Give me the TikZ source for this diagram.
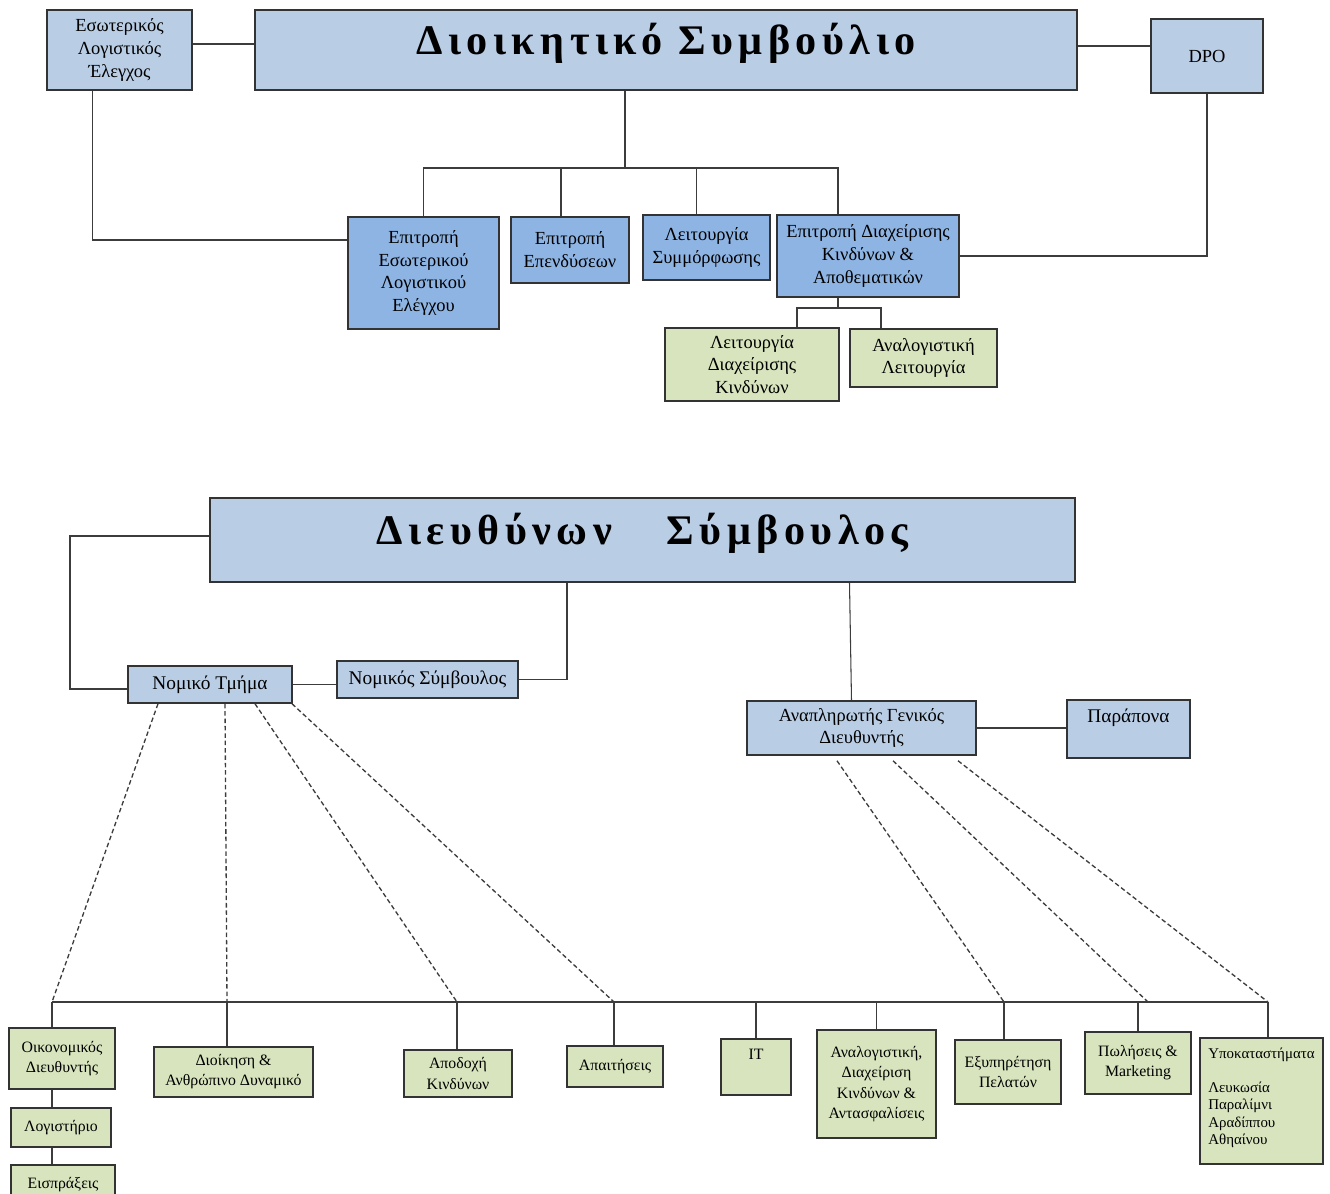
\documentclass[tikz,border=0pt]{standalone}
\usepackage{fontspec}
\setmainfont{Liberation Serif}
\usetikzlibrary{positioning, calc}
\definecolor{boardblue}{HTML}{B9CDE5}
\definecolor{commblue}{HTML}{8EB4E3}
\definecolor{unitgreen}{HTML}{D7E4BD}
\definecolor{linegray}{HTML}{3C3C3C}

\begin{document}
\begin{tikzpicture}
        [
            x=0.02cm, y=-0.02cm,
            box/.style={rectangle, draw=black!80, line width=0.85pt, align=center,
                        inner sep=2pt, fill=#1},
            box/.default=boardblue,
            head/.style={box, text depth=13pt,
                         font=\fontsize{24}{28}\selectfont\bfseries\addfontfeature{LetterSpace=13}},
            upper/.style={box=#1, font=\fontsize{10.5}{13}\selectfont},
            upper/.default=boardblue,
            lower/.style={box=unitgreen, font=\fontsize{9}{11.5}\selectfont},
            intext/.style={anchor=north, align=#1, inner sep=0pt, font=\fontsize{9}{11.5}\selectfont},
            link/.style={draw=linegray, line width=0.6pt},
            dashlink/.style={link, line width=0.75pt, dash pattern=on 2.6pt off 1.6pt}
        ]
        \path[use as bounding box] (0,0) rectangle (1330,1194);

        \node (esl) [upper, minimum width=2.9cm, minimum height=1.6cm] at (119.5,50) {Εσωτερικός\\Λογιστικός\\Έλεγχος};
        \node (board) [head, minimum width=16.44cm, minimum height=1.6cm] at (666,50) {Διοικητικό Συμβούλιο};
        \node (dpo) [upper, minimum width=2.24cm, minimum height=1.48cm] at (1207,56) {DPO};
        \node (audit) [upper=commblue, minimum width=3.02cm, minimum height=2.24cm] at (423.5,273) {Επιτροπή\\Εσωτερικού\\Λογιστικού\\Ελέγχου};
        \node (invest) [upper=commblue, minimum width=2.36cm, minimum height=1.32cm] at (570,250) {Επιτροπή\\Επενδύσεων};
        \node (compl) [upper=commblue, minimum width=2.54cm, minimum height=1.3cm] at (706.5,247.5) {Λειτουργία\\Συμμόρφωσης};
        \node (risk) [upper=commblue, minimum width=3.64cm, minimum height=1.64cm] at (868,256) {Επιτροπή Διαχείρισης\\Κινδύνων \&\\Αποθεματικών};
        \node (riskfn) [upper=unitgreen, minimum width=3.48cm, minimum height=1.46cm] at (752,364.5) {Λειτουργία\\Διαχείρισης\\Κινδύνων};
        \node (actfn) [upper=unitgreen, minimum width=2.94cm, minimum height=1.16cm] at (923.5,358) {Αναλογιστική\\Λειτουργία};

        \coordinate (bus1) at (625,168);
        \coordinate (bus2) at (838,308);
        \draw [link] ($(esl.east)+(0,-6)$) -- ($(esl.east -| board.west)+(0,-6)$);
        \draw [link] ($(board.east)+(0,-4)$) -- ($(board.east -| dpo.west)+(0,-4)$);
        \draw [link] (board.south -| bus1) -- (bus1);
        \draw [link] (audit.north) |- (bus1) -| ($(risk.north)+(-30,0)$);
        \foreach \n/\s in {invest/-9, compl/-10}
            \draw [link] ($(\n.north)+(\s,0)$) -- ($(\n.north |- bus1)+(\s,0)$);
        \draw [link] ($(esl.south)+(-27,0)$) |- ($(audit.west)+(0,-33)$);
        \draw [link] (dpo.south) |- (risk.east);
        \draw [link] ($(risk.south)+(-30,0)$) -- (bus2);
        \draw [link] ($(riskfn.north)+(45,0)$) |- (bus2) -| ($(actfn.north)+(-42.5,0)$);

        \node (ceo) [head, minimum width=17.3cm, minimum height=1.68cm] at (642.5,540) {Διευθύνων\hspace{1.3em}Σύμβουλος};
        \node (legal) [upper, font=\fontsize{11}{13}\selectfont, minimum width=3.28cm, minimum height=0.74cm] at (210,684.5) {Νομικό Τμήμα};
        \node (counsel) [upper, font=\fontsize{11}{13}\selectfont, minimum width=3.62cm, minimum height=0.74cm] at (427.5,679.5) {Νομικός Σύμβουλος};
        \node (deputy) [upper, minimum width=4.58cm, minimum height=1.08cm] at (861.5,728) {Αναπληρωτής Γενικός\\Διευθυντής};
        \node (complaints) [upper, minimum width=2.46cm, minimum height=1.16cm,
            label={[intext=center, font=\fontsize{11}{13}\selectfont, yshift=-5pt]north:Παράπονα}] at (1128.5,729) {};

        \coordinate (leftc) at (70,689);
        \draw [link] ($(ceo.west)+(0,-4)$) -| (leftc) -- (leftc -| legal.west);
        \draw [link] (legal.east) -- (legal.east -| counsel.west);
        \draw [link] (counsel.east) -| ($(ceo.south)+(-75.5,0)$);
        \draw [link] ($(deputy.north)+(-10,0)$) -- ($(deputy.north |- ceo.south)+(-12,0)$);
        \draw [link] (deputy.east) -- (deputy.east -| complaints.west);

        \node (cfo) [lower, minimum width=2.12cm, minimum height=1.22cm] at (62,1058.5) {Οικονομικός\\Διευθυντής};
        \node (acct) [lower, minimum width=2.0cm, minimum height=0.78cm] at (61,1127.5) {Λογιστήριο};
        \node (coll) [lower, minimum width=2.08cm, minimum height=0.8cm] at (63,1185) {Εισπράξεις};
        \node (admin) [lower, minimum width=3.18cm, minimum height=1.0cm] at (233.5,1072) {Διοίκηση \&\\Ανθρώπινο Δυναμικό};
        \node (uw) [lower, minimum width=2.16cm, minimum height=0.94cm] at (458,1073.5) {Αποδοχή\\Κινδύνων};
        \node (claims) [lower, minimum width=1.92cm, minimum height=0.82cm] at (615,1066.5) {Απαιτήσεις};
        \node (it) [lower, minimum width=1.4cm, minimum height=1.12cm,
            label={[intext=center, yshift=-6pt]north:IT}] at (756,1067) {};
        \node (actuar) [lower, minimum width=2.38cm, minimum height=2.16cm] at (876.5,1084) {Αναλογιστική,\\Διαχείριση\\Κινδύνων \&\\Αντασφαλίσεις};
        \node (service) [lower, minimum width=2.12cm, minimum height=1.28cm] at (1008,1072) {Εξυπηρέτηση\\Πελατών};
        \node (sales) [lower, minimum width=2.12cm, minimum height=1.24cm] at (1138,1063) {Πωλήσεις \&\\Marketing};
        \node (branches) [lower, minimum width=2.46cm, minimum height=2.52cm,
            label={[intext=left, font=\fontsize{8.5}{10}\selectfont, yshift=-6pt]north:Υποκαταστήματα\\[9pt]Λευκωσία\\Παραλίμνι\\Αραδίππου\\Αθηαίνου}] at (1261.5,1101) {};

        \coordinate (bus3) at (0,1002);
        \draw [link] ($(cfo.north |- bus3)+(-10,0)$) -- ($(branches.north |- bus3)+(6.5,0)$);
        \foreach \n/\s in {cfo/-10, admin/-6.5, uw/-1, claims/-1, it/0, actuar/0, service/-4, sales/0, branches/6.5}
            \draw [link] ($(\n.north)+(\s,0)$) -- ($(\n.north |- bus3)+(\s,0)$);
        \draw [link] ($(cfo.south)+(-10,0)$) -- ($(acct.north)+(-9,0)$);
        \draw [link] ($(acct.south)+(-9,0)$) -- ($(coll.north)+(-11,0)$);

        \foreach \s/\n/\t in {-52/cfo/-10, 15/admin/-6.5, 45/uw/-1, 82/claims/-1}
            \draw [dashlink] ($(legal.south)+(\s,0)$) -- ($(\n.north |- bus3)+(\t,0)$);
        \foreach \s/\n/\t in {-24.5/service/-4, 31.5/sales/10, 96.5/branches/6.5}
            \draw [dashlink] ($(deputy.south)+(\s,5)$) -- ($(\n.north |- bus3)+(\t,0)$);
    \end{tikzpicture}
\end{document}
